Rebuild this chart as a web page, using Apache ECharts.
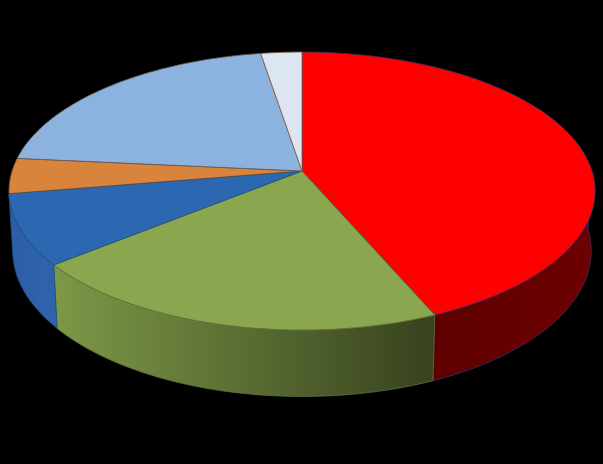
<!DOCTYPE html>
<html><head><meta charset="utf-8">
<style>html,body{margin:0;padding:0;background:#000}#c{width:603px;height:464px}</style>
<script src="https://cdn.jsdelivr.net/npm/echarts@6/dist/echarts.min.js"></script>
</head><body><div id="c"></div>
<script>
const categories = ['Slice 1','Slice 2','Slice 3','Slice 4','Slice 5','Slice 6'];
const values = [43.5, 20.7, 8.2, 4.1, 20.9, 2.6];
const topColors = ['#ff0000','#8aa64e','#2c67b2','#d9843c','#8cb3e0','#dce6f2'];
const wallFrom = ['#6e0000','#7d9847','#2c5ea6','#2c5ea6','#2c5ea6','#2c5ea6'];
const wallTo = ['#5e0000','#37421e','#2f64ad','#2f64ad','#2f64ad','#2f64ad'];
const edgeColors = ['#3a2f6a','#5f7238','#26507f','#5a4a40','#6a5a50','#8a5a3a'];

const cx = 302, cy = 171, A = 290, B = 136.1, k = 0.144;
const sx = 0.987, sy = 1.047, dy = 59;
const wallStart = 90, wallEnd = 260.5;
const total = values.reduce((a, b) => a + b, 0);
let run = 0;
const spans = values.map(v => { const s = run; run += v; return [s / total * 360, run / total * 360]; });

function rim(deg, bottom) {
  const t = deg * Math.PI / 180, u = Math.sin(t), v = -Math.cos(t), w = 1 - k * v;
  return bottom
    ? [cx + sx * A * u / w, cy + dy + sy * B * v / w]
    : [cx + A * u / w, cy + B * v / w];
}
function arc(a, b, bottom) {
  const n = Math.max(2, Math.ceil((b - a) / 1.5)), p = [];
  for (let i = 0; i <= n; i++) p.push(rim(a + (b - a) * i / n, bottom));
  return p;
}
function topItem(params, api) {
  const i = params.dataIndex;
  return { type: 'polygon', shape: { points: [[cx, cy]].concat(arc(api.value(0), api.value(1), false)) },
    style: { fill: topColors[i], stroke: edgeColors[i], lineWidth: 0.8 } };
}
function wallItem(params, api) {
  const i = params.dataIndex;
  const a = Math.max(api.value(0), wallStart), b = Math.min(api.value(1), wallEnd);
  if (b - a < 1) return { type: 'group', children: [] };
  const pts = arc(a, b, false).concat(arc(a, b, true).reverse());
  const xs = pts.map(p => p[0]);
  const x0 = Math.min.apply(null, xs), x1 = Math.max.apply(null, xs);
  const left = i === 0 ? wallTo[i] : wallFrom[i], right = i === 0 ? wallFrom[i] : wallTo[i];
  return { type: 'polygon', shape: { points: pts },
    style: {
      fill: new echarts.graphic.LinearGradient(x0, 0, x1, 0,
        [{ offset: 0, color: left }, { offset: 1, color: right }], true),
      stroke: edgeColors[i], lineWidth: 0.8 } };
}
const rows = spans.map((s, i) => ({ name: categories[i], value: [s[0], s[1]] }));
const chart = echarts.init(document.getElementById('c'), null, { renderer: 'canvas' });
chart.setOption({
  backgroundColor: '#000000',
  animation: false,
  tooltip: { show: false },
  series: [
    { type: 'custom', coordinateSystem: 'none', renderItem: wallItem, data: rows, z: 1, silent: true,
      encode: { x: [], y: [] } },
    { type: 'custom', coordinateSystem: 'none', renderItem: topItem, data: rows, z: 2, silent: true,
      encode: { x: [], y: [] } }
  ]
});
</script></body></html>
